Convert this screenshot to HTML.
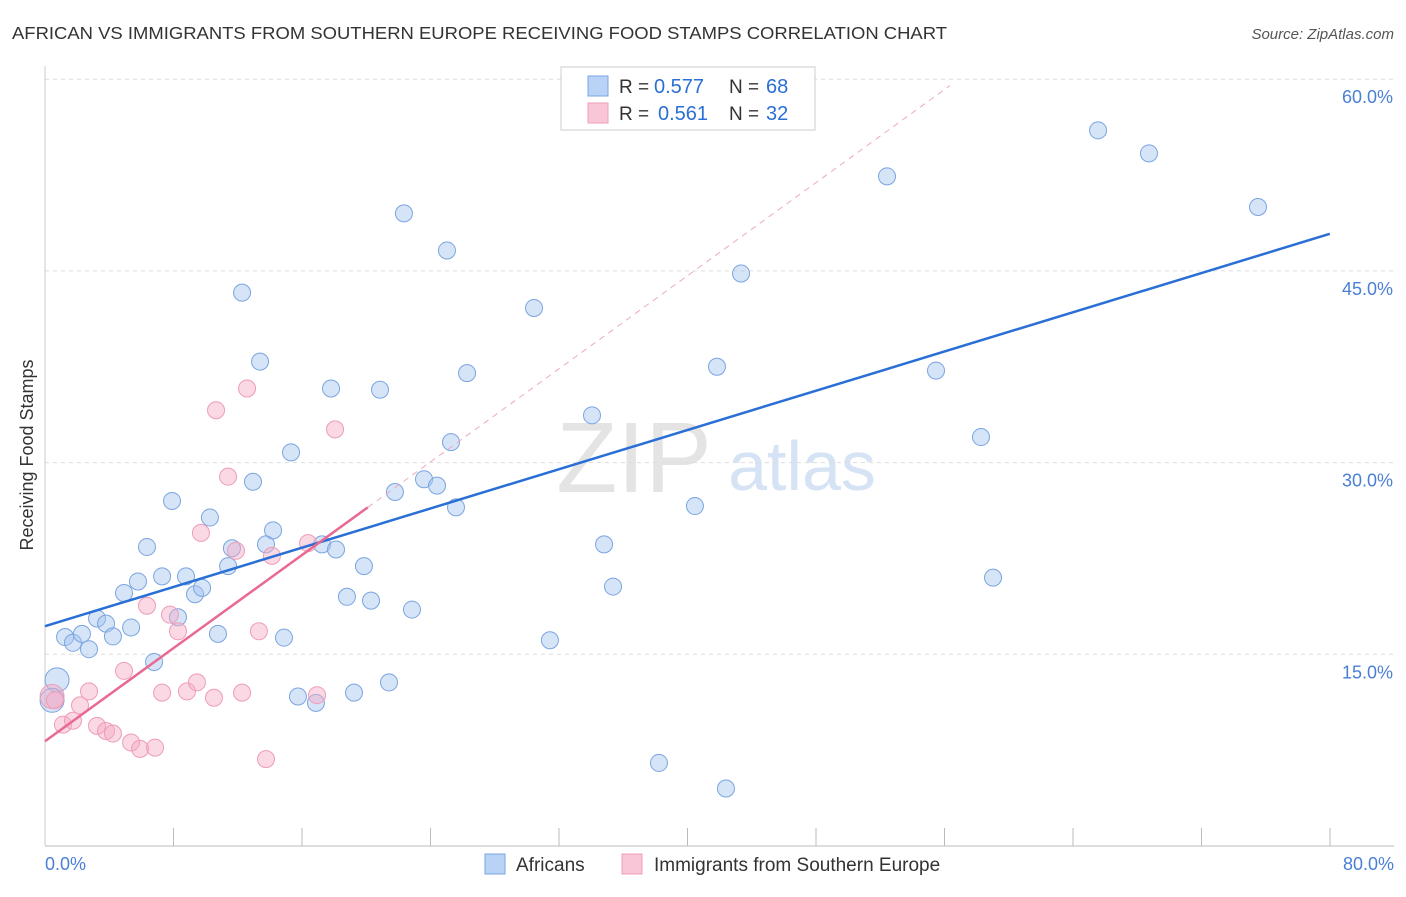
<!DOCTYPE html>
<html><head><meta charset="utf-8"><style>
body{margin:0;background:#fff;font-family:"Liberation Sans",sans-serif}
svg text{font-family:"Liberation Sans",sans-serif}
</style></head><body>
<svg id="c" width="1406" height="892">
<text x="12" y="39" font-size="17.5" fill="#333" textLength="935" lengthAdjust="spacingAndGlyphs">AFRICAN VS IMMIGRANTS FROM SOUTHERN EUROPE RECEIVING FOOD STAMPS CORRELATION CHART</text>
<text x="1394" y="39" font-size="15" fill="#555" font-style="italic" text-anchor="end">Source: ZipAtlas.com</text>
<text x="634" y="492" font-size="100" fill="#e4e4e4" font-family="Liberation Serif" text-anchor="middle">ZIP</text>
<text x="802" y="490" font-size="70" fill="#d5e3f5" text-anchor="middle">atlas</text>
<text transform="translate(33,455) rotate(-90)" font-size="18" fill="#333" text-anchor="middle">Receiving Food Stamps</text>
<g id="grid"></g><g id="pts"></g><g id="lines"></g>
<g>
<rect x="561" y="67" width="254" height="63" fill="#fff" stroke="#ccc"/>
<rect x="588" y="76" width="20" height="20" fill="#b8d3f5" stroke="#7aa5e0"/>
<rect x="588" y="103" width="20" height="20" fill="#f9c6d7" stroke="#ee9cb8"/>
<text x="619" y="93" font-size="19" fill="#333">R =</text>
<text x="654" y="93" font-size="20" fill="#2a6fd6">0.577</text>
<text x="729" y="93" font-size="19" fill="#333">N =</text>
<text x="766" y="93" font-size="20" fill="#2a6fd6">68</text>
<text x="619" y="120" font-size="19" fill="#333">R =</text>
<text x="658" y="120" font-size="20" fill="#2a6fd6">0.561</text>
<text x="729" y="120" font-size="19" fill="#333">N =</text>
<text x="766" y="120" font-size="20" fill="#2a6fd6">32</text>
</g>
<g>
<rect x="485" y="854" width="20" height="20" fill="#b8d3f5" stroke="#7aa5e0"/>
<text x="516" y="871" font-size="19" fill="#333">Africans</text>
<rect x="622" y="854" width="20" height="20" fill="#f9c6d7" stroke="#ee9cb8"/>
<text x="654" y="871" font-size="19" fill="#333">Immigrants from Southern Europe</text>
</g>
<text x="45" y="870" font-size="18" fill="#4a7fd6">0.0%</text>
<text x="1394" y="870" font-size="18" fill="#4a7fd6" text-anchor="end">80.0%</text>
</svg>
<script>
const blueX=[0.75,0.44,1.25,1.74,2.3,2.74,3.24,3.8,4.23,4.92,5.36,5.79,6.35,6.79,7.29,7.91,8.28,8.78,9.34,9.78,10.27,10.77,11.4,11.64,12.27,12.95,13.39,13.76,14.2,14.88,15.32,15.75,16.87,17.25,17.81,18.12,18.8,19.24,19.86,20.3,20.86,21.42,21.79,22.35,22.85,23.6,24.41,25.03,25.28,25.59,26.28,30.45,31.44,34.06,34.81,35.37,38.23,40.47,41.84,42.4,43.34,52.43,55.48,58.28,59.03,65.57,68.74,75.53];
const blueY=[13.0,11.4,16.35,15.9,16.6,15.4,17.8,17.4,16.4,19.8,17.1,20.7,23.4,14.4,21.1,27.0,17.9,21.1,19.7,20.2,25.7,16.6,21.9,23.3,43.3,28.5,37.9,23.6,24.7,16.3,30.8,11.7,11.2,23.6,35.8,23.2,19.5,12.0,21.9,19.2,35.7,12.8,27.7,49.5,18.5,28.7,28.2,46.6,31.6,26.5,37.0,42.1,16.1,33.7,23.6,20.3,6.5,26.6,37.5,4.5,44.8,52.4,37.2,32.0,21.0,56.0,54.2,50.0];
const pinkX=[0.44,0.62,1.12,1.74,2.18,2.74,3.24,3.8,4.23,4.92,5.36,5.92,6.35,6.85,7.29,7.78,8.28,8.84,9.46,9.71,10.52,10.65,11.4,11.89,12.27,12.58,13.32,13.76,14.13,16.38,16.94,18.06];
const pinkY=[11.7,11.4,9.5,9.8,11.0,12.1,9.4,9.0,8.8,13.7,8.1,7.6,18.8,7.7,12.0,18.1,16.8,12.1,12.8,24.5,11.6,34.1,28.9,23.1,12.0,35.8,16.8,6.8,22.7,23.7,11.8,32.6];
const yTicks=[15,30,45,60];
const yTickLabels=["15.0%","30.0%","45.0%","60.0%"];
const blueFit=[17.2,47.9];
const pinkFit=[8.2,26.5,20.1];
const NS="http://www.w3.org/2000/svg";
const sx=v=>45+v*16.06, sy=v=>846-v*12.78;
function mk(t,a,p){const e=document.createElementNS(NS,t);for(const k in a)e.setAttribute(k,a[k]);p.appendChild(e);return e;}
const grid=document.getElementById('grid'),pts=document.getElementById('pts'),lines=document.getElementById('lines');
yTicks.forEach((v,i)=>{
 const l=mk('line',{x1:45,x2:1394,y1:sy(v),y2:sy(v),stroke:'#ddd','stroke-dasharray':'4,4'},grid);
 
 
 const t=mk('text',{x:1393,y:sy(v)+24,'font-size':18,fill:'#4a7fd6','text-anchor':'end'},grid);
 t.textContent=yTickLabels[i];
 
 
});
const ax=mk('line',{x1:45,x2:1394,y1:846,y2:846,stroke:'#bbb'},grid);


const ay=mk('line',{x1:45,x2:45,y1:66,y2:846,stroke:'#ccc'},grid);


for(let i=1;i<=10;i++){const xx=45+i*128.5;const tk=mk('line',{x1:xx,x2:xx,y1:828,y2:846,stroke:'#bbb'},grid);
 
 }
blueX.forEach((x,i)=>{const c=mk('circle',{cx:sx(x),cy:sy(blueY[i]),r:i<2?12:8.5,fill:'rgba(163,196,240,0.45)',stroke:'#7aa5e0','stroke-width':1},pts);
 
 });
pinkX.forEach((x,i)=>{const c=mk('circle',{cx:sx(x),cy:sy(pinkY[i]),r:i<1?12:8.5,fill:'rgba(245,170,195,0.45)',stroke:'#ee9cb8','stroke-width':1},pts);
 
 });
const bl=mk('line',{x1:sx(0),y1:sy(blueFit[0]),x2:sx(80),y2:sy(blueFit[1]),stroke:'#2a6fd6','stroke-width':2.5},lines);


const slope=(pinkFit[1]-pinkFit[0])/pinkFit[2];
const xe=(59.5-pinkFit[0])/slope;
const pd=mk('line',{x1:sx(pinkFit[2]),y1:sy(pinkFit[1]),x2:sx(xe),y2:sy(59.5),stroke:'#eeaabf','stroke-width':1,'stroke-dasharray':'6,5'},lines);


const pl=mk('line',{x1:sx(0),y1:sy(pinkFit[0]),x2:sx(pinkFit[2]),y2:sy(pinkFit[1]),stroke:'#e86a92','stroke-width':2.5},lines);


</script>
</body></html>
